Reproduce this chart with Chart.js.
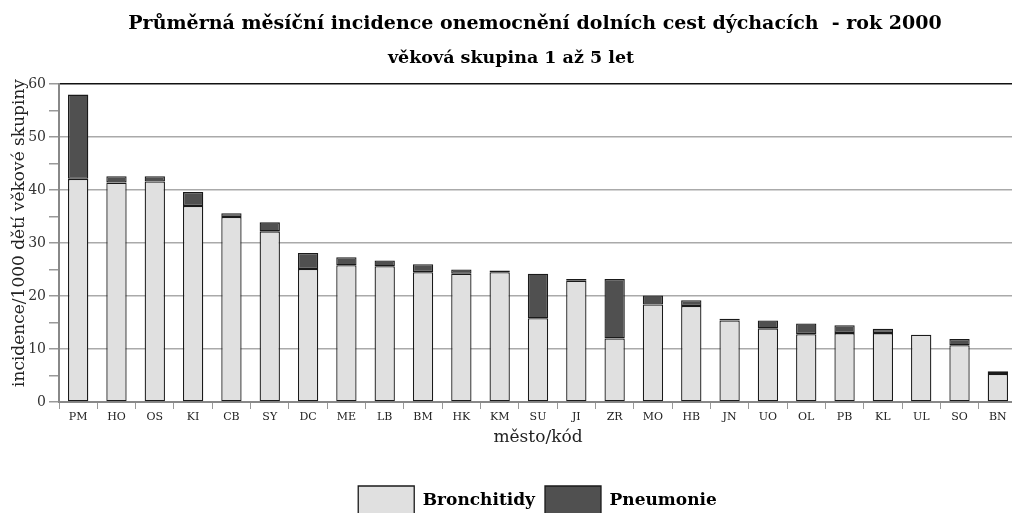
<!DOCTYPE html>
<html>
<head>
<meta charset="utf-8">
<script src="https://cdn.jsdelivr.net/npm/chart.js"></script>
<style>
  html, body { margin: 0; padding: 0; background: #fff; overflow: hidden; }
  #wrap { position: absolute; left: 0; top: 0; width: 1017px; height: 526px; }
</style>
</head>
<body>
<div id="wrap"><canvas id="myChart"></canvas></div>
<script>
const cities = ['PM','HO','OS','KI','CB','SY','DC','ME','LB','BM','HK','KM','SU','JI','ZR','MO','HB','JN','UO','OL','PB','KL','UL','SO','BN'];
const bronchitidy = [42.1, 41.4, 41.6, 37.0, 34.9, 32.2, 25.1, 25.8, 25.6, 24.5, 24.2, 24.5, 15.8, 22.9, 12.0, 18.4, 18.1, 15.4, 13.9, 12.8, 13.0, 13.0, 12.7, 10.7, 5.3];
const pneumonie   = [15.9, 1.2, 1.0, 2.6, 0.7, 1.7, 3.0, 1.5, 1.1, 1.5, 0.8, 0.3, 8.4, 0.3, 11.2, 1.7, 1.1, 0.3, 1.5, 2.0, 1.5, 0.8, 0, 1.2, 0.5];
const yTicks = [0, 10, 20, 30, 40, 50, 60];

const title = 'Průměrná měsíční incidence onemocnění dolních cest dýchacích  - rok 2000';
const subtitle = 'věková skupina 1 až 5 let';
const yTitle = 'incidence/1000 dětí věkové skupiny';
const serif = '"DejaVu Serif", "Liberation Serif", serif';

// titles and the rotated y-axis caption
const titles = {
    id: 'titles',
    afterLayout(chart) {
        // legend sits a bit right of the canvas centre in the original
        chart.legend.left += 29;
        chart.legend.right += 29;
    },
    afterDraw(chart) {
        const ctx = chart.ctx;
        ctx.save();
        ctx.fillStyle = '#000';
        ctx.textAlign = 'center';
        ctx.textBaseline = 'alphabetic';
        ctx.font = 'bold 19px ' + serif;
        ctx.fillText(title, 535, 29);
        ctx.font = 'bold 17.5px ' + serif;
        ctx.fillText(subtitle, 511, 63);

        ctx.fillStyle = '#222';
        ctx.font = '17px ' + serif;
        ctx.translate(24, 233);
        ctx.rotate(-Math.PI / 2);
        ctx.fillText(yTitle, 0, 0);
        ctx.restore();
    }
};

new Chart(document.getElementById('myChart'), {
    type: 'bar',
    data: {
        labels: cities,
        datasets: [
            { label: 'Bronchitidy', data: bronchitidy, backgroundColor: '#e0e0e0', borderColor: '#1a1a1a', borderWidth: 1.3, borderSkipped: false, barPercentage: 0.53, categoryPercentage: 1 },
            { label: 'Pneumonie', data: pneumonie, backgroundColor: '#505050', borderColor: '#1a1a1a', borderWidth: 1.3, borderSkipped: false, barPercentage: 0.53, categoryPercentage: 1 }
        ]
    },
    options: {
        responsive: true,
        maintainAspectRatio: false,
        animation: false,
        layout: { padding: { top: 84, left: 0, right: 0, bottom: 0 } },
        plugins: {
            legend: {
                position: 'bottom',
                labels: {
                    boxWidth: 56, boxHeight: 30, padding: 10,
                    color: '#000',
                    font: { family: serif, size: 17, weight: 'bold' }
                }
            },
            tooltip: { enabled: false }
        },
        scales: {
            x: {
                stacked: true,
                afterFit(axis) { axis.height = 74; },
                grid: { drawOnChartArea: false, tickLength: 7, tickColor: '#999', offset: true },
                border: { color: '#888', width: 2 },
                ticks: { color: '#222', font: { family: serif, size: 11 }, padding: 2, maxRotation: 0, autoSkip: false },
                title: { display: true, text: 'město/kód', color: '#222', font: { family: serif, size: 17 }, padding: { top: 0, bottom: 28 } }
            },
            y: {
                stacked: true,
                min: 0, max: 60,
                afterFit(axis) { axis.width = 59; },
                afterBuildTicks(axis) {
                    const t = [];
                    for (let v = 0; v <= 60; v += 5) t.push({ value: v });
                    axis.ticks = t;
                },
                grid: {
                    color: c => (c.tick && yTicks.includes(c.tick.value)) ? (c.tick.value === 60 ? '#111' : '#aaa') : 'rgba(0,0,0,0)',
                    tickColor: '#999', tickLength: 10, lineWidth: 1.5
                },
                border: { color: '#888', width: 2 },
                ticks: { color: '#333', font: { family: serif, size: 14 }, padding: 3, callback: v => yTicks.includes(v) ? v : '' }
            }
        }
    },
    plugins: [titles]
});
</script>
</body>
</html>
